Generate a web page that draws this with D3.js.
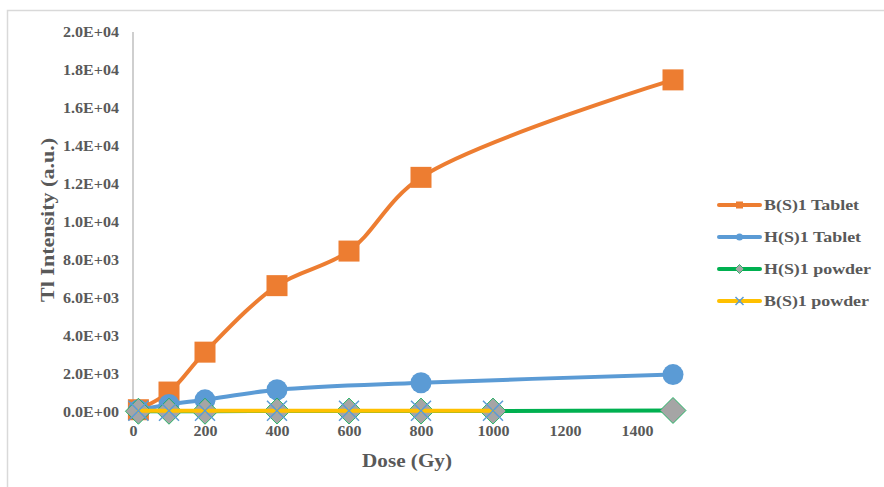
<!DOCTYPE html>
<html><head><meta charset="utf-8">
<script src="https://cdn.jsdelivr.net/npm/d3@7"></script>
<style>body{margin:0;background:#fff}svg{display:block}</style>
</head><body><svg id="c" width="884" height="487"></svg>
<script>
const seriesNames = ["B(S)1 Tablet","H(S)1 Tablet","H(S)1 powder","B(S)1 powder"];
const doseBT = [15,100,200,400,600,800,1500];
const valBT  = [120,1050,3150,6650,8470,12350,17480];
const doseHT = [15,100,200,400,800,1500];
const valHT  = [100,400,640,1170,1540,1970];
const doseHP = [15,100,200,400,600,800,1000,1500];
const valHP  = [40,40,40,50,50,50,50,80];
const doseBP = [15,100,200,400,600,800,1000];
const valBP  = [70,70,70,70,70,70,70];
const xTicks = [0,200,400,600,800,1000,1200,1400];
const yTicks = [0,2000,4000,6000,8000,10000,12000,14000,16000,18000,20000];

const svg = d3.select("#c");
const font = "'Liberation Serif','Times New Roman',serif";
const grey = "#595959";
svg.append("rect").attr("x",7.5).attr("y",10.5).attr("width",900).attr("height",500)
  .attr("fill","#fff").attr("stroke","#d9d9d9").attr("stroke-width",1.5);

function stretch(sel, refText, refWidth) {
  let base = null;
  sel.each(function(){ if (this.textContent===refText) base = this.getComputedTextLength(); });
  if (!base) return;
  const k = refWidth/base;
  sel.each(function(){
    const w = this.getComputedTextLength();
    d3.select(this).attr("textLength", w*k).attr("lengthAdjust","spacingAndGlyphs");
  });
}

const x = d3.scaleLinear().domain([0,1500]).range([133,673]);
const y = d3.scaleLinear().domain([0,20000]).range([412,32]);

svg.append("line").attr("x1",133).attr("x2",133).attr("y1",y(20000)).attr("y2",y(0))
  .attr("stroke","#bfbfbf").attr("stroke-width",1.5);

const yAxis = svg.append("g").attr("transform","translate(133,0)")
  .call(d3.axisLeft(y).tickValues(yTicks).tickSize(0).tickPadding(14)
    .tickFormat(d => { const e = d===0?0:Math.floor(Math.log10(d)); const m=(d/Math.pow(10,e)).toFixed(1); return m+"E+"+String(e).padStart(2,"0"); }));
yAxis.select(".domain").remove();
yAxis.selectAll("text").attr("font-family",font).attr("font-weight","bold").attr("font-size",14).attr("fill",grey);
stretch(yAxis.selectAll("text"), "2.0E+04", 56);

const xAxis = svg.append("g").attr("transform","translate(0,412)")
  .call(d3.axisBottom(x).tickValues(xTicks).tickSize(0).tickPadding(14).tickFormat(d3.format("d")));
xAxis.select(".domain").remove();
xAxis.selectAll("text").attr("font-family",font).attr("font-weight","bold").attr("font-size",14).attr("fill",grey);
stretch(xAxis.selectAll("text"), "1000", 32);

const xt = svg.append("text").attr("x",407).attr("y",467).attr("text-anchor","middle")
  .attr("font-family",font).attr("font-weight","bold").attr("font-size",18.5).attr("fill",grey).text("Dose (Gy)");
stretch(xt, "Dose (Gy)", 90);
const yt = svg.append("text").attr("transform","translate(47,220) rotate(-90)").attr("text-anchor","middle").attr("dy","0.35em")
  .attr("font-family",font).attr("font-weight","bold").attr("font-size",19).attr("fill",grey).text("Tl Intensity (a.u.)");
stretch(yt, "Tl Intensity (a.u.)", 164);

const series = [
  {name:seriesNames[0], d:doseBT, v:valBT, color:"#ED7D31", marker:"square"},
  {name:seriesNames[1], d:doseHT, v:valHT, color:"#5B9BD5", marker:"circle"},
  {name:seriesNames[2], d:doseHP, v:valHP, color:"#00B050", marker:"diamond"},
  {name:seriesNames[3], d:doseBP, v:valBP, color:"#FFC000", marker:"x"}
];
const line = d3.line().x(p=>x(p[0])).y(p=>y(p[1])).curve(d3.curveCatmullRom.alpha(0.5));

function marker(g, type, cx, cy, s) {
  if (type==="square") g.append("rect").attr("x",cx-s/2).attr("y",cy-s/2).attr("width",s).attr("height",s).attr("fill","#ED7D31");
  else if (type==="circle") g.append("circle").attr("cx",cx).attr("cy",cy).attr("r",s/2).attr("fill","#5B9BD5");
  else if (type==="diamond") g.append("path").attr("d",`M${cx},${cy-s/2}L${cx+s/2},${cy}L${cx},${cy+s/2}L${cx-s/2},${cy}Z`).attr("fill","#A5A5A5").attr("stroke","#00B050").attr("stroke-width",0.8);
  else if (type==="x") { const h=s/2; g.append("path").attr("d",`M${cx-h},${cy-h}L${cx+h},${cy+h}M${cx-h},${cy+h}L${cx+h},${cy-h}`).attr("stroke","#5B9BD5").attr("stroke-width",1.5).attr("fill","none"); }
}

series.forEach(s => {
  const pts = s.d.map((d,i)=>[d,s.v[i]]);
  const g = svg.append("g");
  g.append("path").attr("d",line(pts)).attr("fill","none").attr("stroke",s.color).attr("stroke-width",4).attr("stroke-linecap","round");
  const size = s.marker==="square"?21: s.marker==="circle"?21: s.marker==="diamond"?26:20;
  pts.forEach(p => marker(g, s.marker, x(p[0]), y(p[1]), size));
});

const legY = [205,237,269,301];
series.forEach((s,i) => {
  const g = svg.append("g");
  g.append("line").attr("x1",719).attr("x2",760).attr("y1",legY[i]).attr("y2",legY[i]).attr("stroke",s.color).attr("stroke-width",4).attr("stroke-linecap","round");
  const sz = s.marker==="diamond"?9: s.marker==="x"?8:7;
  marker(g, s.marker, 739.5, legY[i], sz);
  g.append("text").attr("class","leg").attr("x",764).attr("y",legY[i]).attr("dy","0.35em").attr("font-family",font).attr("font-weight","bold").attr("font-size",15.5).attr("fill",grey).text(s.name);
});
stretch(svg.selectAll("text.leg"), "H(S)1 powder", 107);
</script></body></html>
